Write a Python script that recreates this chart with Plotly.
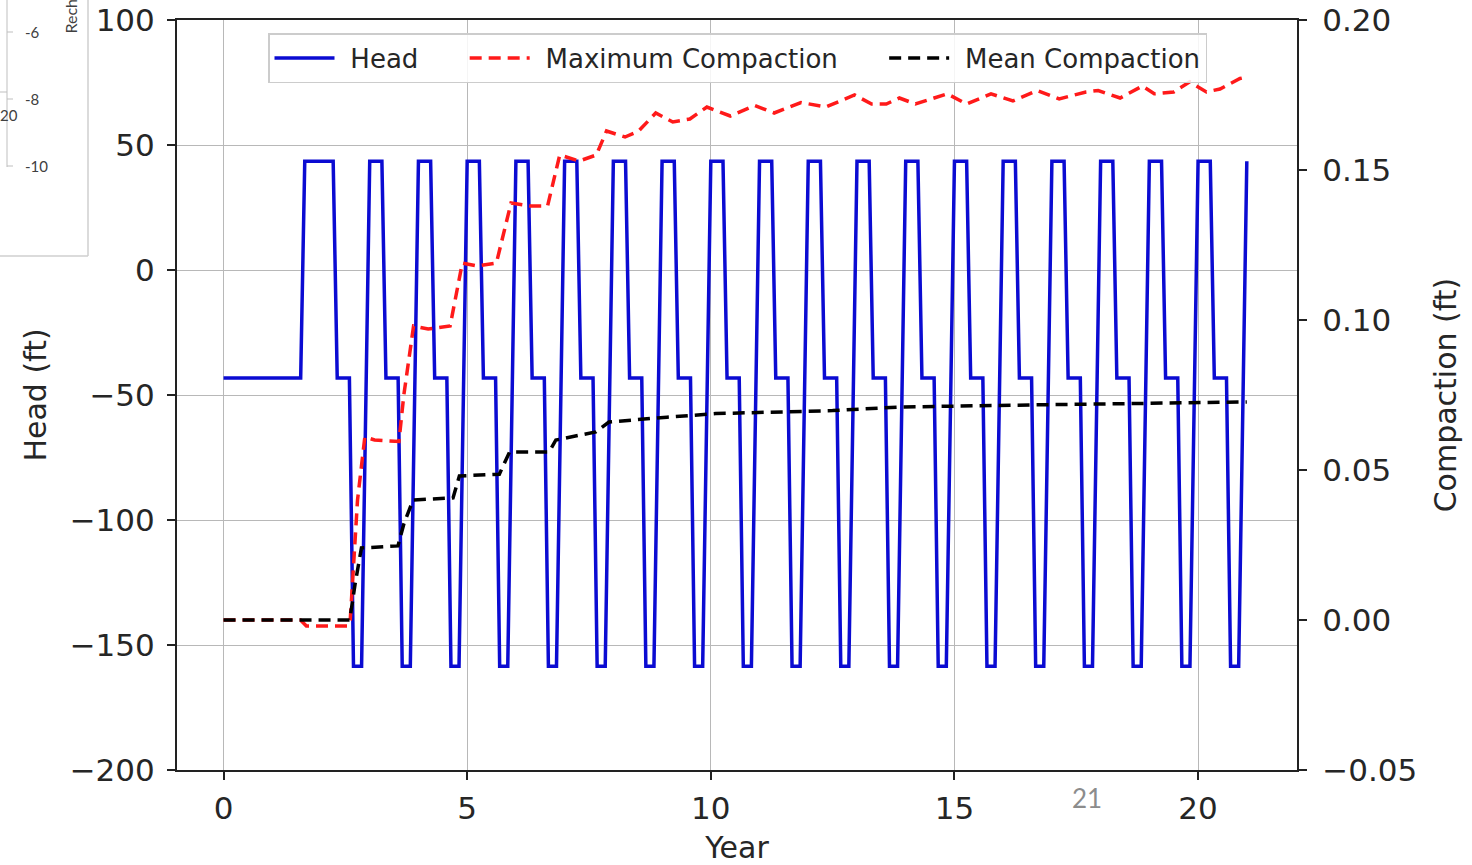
import plotly.graph_objects as go

# ---------------- data ----------------
head_year = [0.0, 1.583, 1.667, 2.25, 2.333, 2.583, 2.667, 2.833,
             3.0, 3.25, 3.333, 3.583, 3.667, 3.833,
             4.0, 4.25, 4.333, 4.583, 4.667, 4.833,
             5.0, 5.25, 5.333, 5.583, 5.667, 5.833,
             6.0, 6.25, 6.333, 6.583, 6.667, 6.833,
             7.0, 7.25, 7.333, 7.583, 7.667, 7.833,
             8.0, 8.25, 8.333, 8.583, 8.667, 8.833,
             9.0, 9.25, 9.333, 9.583, 9.667, 9.833,
             10.0, 10.25, 10.333, 10.583, 10.667, 10.833,
             11.0, 11.25, 11.333, 11.583, 11.667, 11.833,
             12.0, 12.25, 12.333, 12.583, 12.667, 12.833,
             13.0, 13.25, 13.333, 13.583, 13.667, 13.833,
             14.0, 14.25, 14.333, 14.583, 14.667, 14.833,
             15.0, 15.25, 15.333, 15.583, 15.667, 15.833,
             16.0, 16.25, 16.333, 16.583, 16.667, 16.833,
             17.0, 17.25, 17.333, 17.583, 17.667, 17.833,
             18.0, 18.25, 18.333, 18.583, 18.667, 18.833,
             19.0, 19.25, 19.333, 19.583, 19.667, 19.833,
             20.0, 20.25, 20.333, 20.583, 20.667, 20.833,
             21.0]
head_ft = [-43.2, -43.2, 43.5, 43.5, -43.2, -43.2, -158.5, -158.5,
           43.5, 43.5, -43.2, -43.2, -158.5, -158.5,
           43.5, 43.5, -43.2, -43.2, -158.5, -158.5,
           43.5, 43.5, -43.2, -43.2, -158.5, -158.5,
           43.5, 43.5, -43.2, -43.2, -158.5, -158.5,
           43.5, 43.5, -43.2, -43.2, -158.5, -158.5,
           43.5, 43.5, -43.2, -43.2, -158.5, -158.5,
           43.5, 43.5, -43.2, -43.2, -158.5, -158.5,
           43.5, 43.5, -43.2, -43.2, -158.5, -158.5,
           43.5, 43.5, -43.2, -43.2, -158.5, -158.5,
           43.5, 43.5, -43.2, -43.2, -158.5, -158.5,
           43.5, 43.5, -43.2, -43.2, -158.5, -158.5,
           43.5, 43.5, -43.2, -43.2, -158.5, -158.5,
           43.5, 43.5, -43.2, -43.2, -158.5, -158.5,
           43.5, 43.5, -43.2, -43.2, -158.5, -158.5,
           43.5, 43.5, -43.2, -43.2, -158.5, -158.5,
           43.5, 43.5, -43.2, -43.2, -158.5, -158.5,
           43.5, 43.5, -43.2, -43.2, -158.5, -158.5,
           43.5, 43.5, -43.2, -43.2, -158.5, -158.5,
           43.5]

max_year = [0.0, 1.58, 1.7, 2.55, 2.6, 2.75, 2.9, 3.1, 3.6, 3.7, 3.9, 4.2, 4.65,
            4.9, 5.2, 5.6, 5.9, 6.3, 6.65, 6.9, 7.3, 7.65, 7.86, 8.24, 8.52,
            8.87, 9.22, 9.57, 9.92, 10.4, 10.9, 11.3, 11.85, 12.36, 12.95,
            13.3, 13.6, 13.87, 14.2, 14.85, 15.25, 15.75, 16.2, 16.7, 17.15,
            17.7, 17.95, 18.4, 18.86, 19.1, 19.5, 19.83, 20.17, 20.45, 20.86, 21.0]
max_comp = [0.0, 0.0, -0.002, -0.002, 0.0, 0.04, 0.061, 0.060, 0.0595, 0.075, 0.098,
            0.097, 0.098, 0.119, 0.118, 0.119, 0.139, 0.138, 0.138, 0.155, 0.153,
            0.155, 0.163, 0.161, 0.163, 0.169, 0.166, 0.167, 0.171, 0.168, 0.1715,
            0.169, 0.1725, 0.171, 0.175, 0.172, 0.172, 0.174, 0.172, 0.1754, 0.172,
            0.1754, 0.173, 0.1765, 0.1737, 0.176, 0.1765, 0.174, 0.178, 0.1754,
            0.176, 0.1794, 0.176, 0.177, 0.1805, 0.181]

mean_year = [0.0, 2.59, 2.7, 2.83, 3.58, 3.7, 3.89, 4.71, 4.84, 5.66, 5.87, 6.68,
             6.82, 7.64, 7.91, 8.8, 9.1, 10.1, 11.1, 12.5, 13.9, 15.8, 17.0, 18.0,
             19.0, 20.0, 21.0]
mean_comp = [0.0, 0.0, 0.012, 0.024, 0.0247, 0.032, 0.040, 0.0407, 0.048, 0.0486,
             0.056, 0.056, 0.060, 0.0627, 0.066, 0.067, 0.0676, 0.0688, 0.0692,
             0.0698, 0.0710, 0.0716, 0.0718, 0.0720, 0.0722, 0.0725, 0.0727]

x_ticks = [0, 5, 10, 15, 20]
head_ticks = [100, 50, 0, -50, -100, -150, -200]
comp_ticks = [0.20, 0.15, 0.10, 0.05, 0.00, -0.05]

# ---------------- layout geometry ----------------
W, H = 1472, 865
L, R, T, B = 177, 1297, 20, 770


def px(xp):
    return (xp - L) / (R - L)


def py(yp):
    return 1 - (yp - T) / (B - T)


FONT = "DejaVu Sans"
TXT = "#262626"
NB = "\u00a0"
LEAD = "\u00a0\u200a"
PAD = NB * 5

fig = go.Figure()
fig.add_trace(go.Scatter(x=head_year, y=head_ft, mode="lines",
                         name=LEAD + "Head" + PAD,
                         line=dict(color="#0b0bd2", width=3.5), yaxis="y"))
fig.add_trace(go.Scatter(x=max_year, y=max_comp, mode="lines",
                         name=LEAD + "Maximum Compaction" + PAD,
                         line=dict(color="#ff1a1a", width=3.5, dash="12px,7px"),
                         yaxis="y2"))
fig.add_trace(go.Scatter(x=mean_year, y=mean_comp, mode="lines",
                         name=LEAD + "Mean Compaction",
                         line=dict(color="black", width=3.5, dash="12px,7px"),
                         yaxis="y2"))

axis_common = dict(showline=True, linecolor="#222222", linewidth=2,
                   ticks="outside", ticklen=8, tickwidth=1.5, tickcolor="#222222",
                   tickfont=dict(family=FONT, size=31, color=TXT), zeroline=False,
                   automargin=False)

fig.update_layout(
    width=W, height=H,
    margin=dict(l=L, r=W - R, t=T, b=H - B, pad=0),
    paper_bgcolor="white", plot_bgcolor="white",
    font=dict(family=FONT, color=TXT),
    xaxis=dict(range=[-0.955, 22.03], tickvals=x_ticks, mirror=True,
               showgrid=True, gridcolor="#b8b8b8", gridwidth=1,
               ticklabelstandoff=2,
               title=dict(text="Year", font=dict(family=FONT, size=30, color=TXT),
                          standoff=18),
               **axis_common),
    yaxis=dict(range=[-200, 100], tickvals=head_ticks,
               tickformat="d", showgrid=True, gridcolor="#b8b8b8", gridwidth=1,
               ticklabelstandoff=6,
               title=dict(text="Head (ft)", font=dict(family=FONT, size=30, color=TXT),
                          standoff=14),
               **axis_common),
    yaxis2=dict(range=[-0.05, 0.20], tickvals=comp_ticks, tickformat=".2f",
                overlaying="y", side="right", showgrid=False,
                ticklabelstandoff=9,
                title=dict(text="Compaction (ft)", font=dict(family=FONT, size=30, color=TXT),
                           standoff=19),
                **axis_common),
    legend=dict(orientation="h", x=px(268), y=py(33), xanchor="left", yanchor="top",
                bgcolor="rgba(255,255,255,0.85)", bordercolor="#cccccc", borderwidth=1.5,
                font=dict(family=FONT, size=26, color=TXT), itemwidth=60,
                tracegroupgap=0),
    showlegend=True,
)

# ---------------- slide artefacts around the chart ----------------
shapes = []
frag_col = "#cfcfcf"
shapes.append(dict(type="line", xref="paper", yref="paper", x0=px(88), x1=px(88),
                   y0=py(0), y1=py(256), line=dict(color=frag_col, width=1.5)))
shapes.append(dict(type="line", xref="paper", yref="paper", x0=px(0), x1=px(88),
                   y0=py(256), y1=py(256), line=dict(color=frag_col, width=1.5)))
shapes.append(dict(type="line", xref="paper", yref="paper", x0=px(7), x1=px(7),
                   y0=py(0), y1=py(167), line=dict(color="#bfbfbf", width=1)))
shapes.append(dict(type="line", xref="paper", yref="paper", x0=px(0), x1=px(7),
                   y0=py(92), y1=py(92), line=dict(color="#bfbfbf", width=1)))
for ty in [32, 99, 166]:
    shapes.append(dict(type="line", xref="paper", yref="paper", x0=px(7), x1=px(13),
                       y0=py(ty), y1=py(ty), line=dict(color="#bfbfbf", width=1)))
fig.update_layout(shapes=shapes)

frag_font = dict(family="Lato", size=15, color="#404040")
for lab, ty in [("-6", 32), ("-8", 99), ("-10", 166)]:
    fig.add_annotation(xref="paper", yref="paper", x=px(23), y=py(ty), text=lab,
                       showarrow=False, xanchor="left", yanchor="middle", font=frag_font)
fig.add_annotation(xref="paper", yref="paper", x=px(-2), y=py(115), text="20",
                   showarrow=False, xanchor="left", yanchor="middle", font=frag_font)
fig.add_annotation(xref="paper", yref="paper", x=px(70), y=py(36), text="Rech",
                   showarrow=False, xanchor="center", yanchor="bottom", textangle=-90,
                   font=dict(family="Lato", size=16, color="#404040"))
fig.add_annotation(xref="paper", yref="paper", x=px(1087), y=py(798), text="21",
                   showarrow=False, xanchor="center", yanchor="middle",
                   font=dict(family="Lato", size=26, color="#8c8c8c"))

fig.write_html("out.html")
